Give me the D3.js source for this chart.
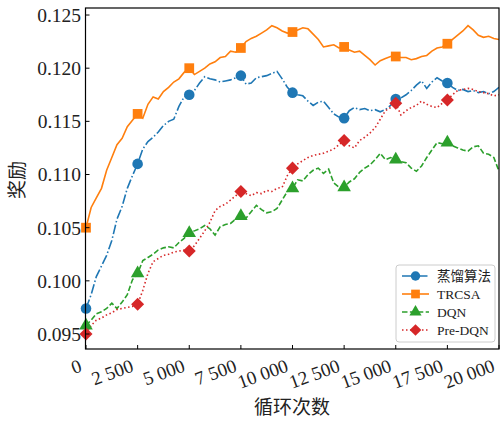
<!DOCTYPE html>
<html>
<head>
<meta charset="utf-8">
<script src="https://cdn.jsdelivr.net/npm/d3@7/dist/d3.min.js"></script>
<style>
  body { margin: 0; background: #fff; }
  svg { display: block; }
  .serif { font-family: "Times New Roman", "Liberation Serif", Times, serif; }
  .cjk { font-family: "Noto Sans CJK SC", "Noto Sans CJK JP", sans-serif; }
</style>
</head>
<body>
<div id="chart"></div>
<script>
// reward curves, one value every 250 loops (0 .. 20000)
var step = 250;
var distill = [
  0.0974,0.0987,0.1004,0.1014,0.1024,0.1038,0.1058,0.1070,0.1087,0.1099,
  0.1110,0.1124,0.1131,0.1135,0.1140,0.1146,0.1150,0.1152,0.1164,0.1173,
  0.1175,0.1179,0.1186,0.1192,0.1190,0.1189,0.1187,0.1188,0.1189,0.1191,
  0.1193,0.1185,0.1186,0.1191,0.1192,0.1193,0.1195,0.1197,0.1190,0.1182,
  0.1177,0.1175,0.1174,0.1169,0.1165,0.1168,0.1169,0.1163,0.1157,0.1154,
  0.1153,0.1160,0.1163,0.1161,0.1162,0.1160,0.1161,0.1159,0.1161,0.1165,
  0.1171,0.1172,0.1175,0.1179,0.1184,0.1188,0.1181,0.1187,0.1191,0.1188,
  0.1186,0.1182,0.1179,0.1180,0.1178,0.1179,0.1177,0.1178,0.1176,0.1178,
  0.1182
];
var trcsa = [
  0.1050,0.1069,0.1078,0.1087,0.1104,0.1116,0.1128,0.1134,0.1145,0.1151,
  0.1157,0.1153,0.1166,0.1173,0.1171,0.1178,0.1182,0.1187,0.1190,0.1196,
  0.1200,0.1194,0.1197,0.1200,0.1204,0.1206,0.1210,0.1211,0.1216,0.1215,
  0.1219,0.1225,0.1228,0.1230,0.1233,0.1236,0.1240,0.1238,0.1235,0.1233,
  0.1234,0.1236,0.1238,0.1237,0.1232,0.1227,0.1220,0.1221,0.1222,0.1219,
  0.1220,0.1217,0.1215,0.1216,0.1212,0.1208,0.1203,0.1207,0.1209,0.1211,
  0.1211,0.1210,0.1210,0.1208,0.1209,0.1211,0.1212,0.1216,0.1219,0.1220,
  0.1223,0.1227,0.1231,0.1235,0.1240,0.1236,0.1231,0.1229,0.1230,0.1228,
  0.1227
];
var dqn = [
  0.0958,0.0963,0.0969,0.0971,0.0974,0.0979,0.0974,0.0980,0.0987,0.1001,
  0.1007,0.1019,0.1022,0.1025,0.1029,0.1031,0.1032,0.1031,0.1036,0.1040,
  0.1045,0.1047,0.1049,0.1052,0.1049,0.1043,0.1051,0.1053,0.1054,0.1058,
  0.1061,0.1059,0.1065,0.1071,0.1067,0.1064,0.1065,0.1068,0.1076,0.1084,
  0.1087,0.1095,0.1094,0.1100,0.1104,0.1106,0.1101,0.1105,0.1092,0.1088,
  0.1088,0.1093,0.1096,0.1102,0.1106,0.1109,0.1114,0.1120,0.1114,0.1116,
  0.1114,0.1112,0.1111,0.1106,0.1103,0.1108,0.1116,0.1123,0.1130,0.1129,
  0.1130,0.1127,0.1125,0.1123,0.1122,0.1126,0.1127,0.1120,0.1119,0.1116,
  0.1103
];
var preDqn = [
  0.0950,0.0958,0.0963,0.0965,0.0968,0.0970,0.0973,0.0974,0.0975,0.0976,
  0.0978,0.0991,0.1007,0.1018,0.1021,0.1024,0.1025,0.1027,0.1028,0.1029,
  0.1028,0.1033,0.1040,0.1047,0.1055,0.1066,0.1070,0.1072,0.1076,0.1080,
  0.1084,0.1082,0.1080,0.1083,0.1082,0.1085,0.1084,0.1087,0.1088,0.1099,
  0.1106,0.1110,0.1113,0.1116,0.1118,0.1119,0.1120,0.1122,0.1124,0.1128,
  0.1132,0.1127,0.1125,0.1132,0.1135,0.1139,0.1144,0.1152,0.1160,0.1163,
  0.1167,0.1156,0.1160,0.1163,0.1165,0.1169,0.1166,0.1164,0.1163,0.1167,
  0.1170,0.1175,0.1179,0.1180,0.1181,0.1180,0.1178,0.1177,0.1176,0.1174,
  0.1175
];
var seriesNames = ["蒸馏算法", "TRCSA", "DQN", "Pre-DQN"];
var xTicks = [0, 2500, 5000, 7500, 10000, 12500, 15000, 17500, 20000];
var yTicks = [0.095, 0.100, 0.105, 0.110, 0.115, 0.120, 0.125];

var W = 500, H = 423;
var L = 85.5, R = 499, T = 8, B = 349;

var svg = d3.select("#chart").append("svg")
  .attr("width", W).attr("height", H);

var x = d3.scaleLinear().domain([0, 20000]).range([86, 499]);
var y = d3.scaleLinear().domain([0.09359, 0.12566]).range([B, T]);

// matplotlib style diamond = square turned 45 degrees
var styles = [
  {data: distill, color: "#1f77b4", dash: "9.6,2.4,1.5,2.4", marker: d3.symbolCircle, size: 88, rot: 0},
  {data: trcsa, color: "#ff7f0e", dash: null, marker: d3.symbolSquare, size: 95, rot: 0},
  {data: dqn, color: "#2ca02c", dash: "5.5,2.4", marker: d3.symbolTriangle, size: 80, rot: 0},
  {data: preDqn, color: "#d62728", dash: "1.5,2.5", marker: d3.symbolSquare, size: 85, rot: 45}
];

svg.append("clipPath").attr("id", "clip")
  .append("rect").attr("x", L).attr("y", T).attr("width", R - L).attr("height", B - T);

var line = d3.line()
  .x(function(d, i) { return x(i * step); })
  .y(function(d) { return y(d); });

var plot = svg.append("g").attr("clip-path", "url(#clip)");

styles.forEach(function(s) {
  plot.append("path")
    .attr("d", line(s.data))
    .attr("fill", "none")
    .attr("stroke", s.color)
    .attr("stroke-width", 1.6)
    .attr("stroke-dasharray", s.dash);
});

// markers every 2500 loops
styles.forEach(function(s) {
  var pts = s.data.map(function(v, i) { return [i * step, v]; })
    .filter(function(p) { return p[0] % 2500 == 0 && p[0] < 20000; });
  svg.append("g").selectAll("path").data(pts).enter().append("path")
    .attr("d", d3.symbol().type(s.marker).size(s.size))
    .attr("transform", function(p) {
      return "translate(" + x(p[0]) + "," + y(p[1]) + ") rotate(" + s.rot + ")";
    })
    .attr("fill", s.color);
});

// frame
svg.append("rect")
  .attr("x", L).attr("y", T).attr("width", R - L).attr("height", B - T)
  .attr("fill", "none").attr("stroke", "#000").attr("stroke-width", 1.2);

// y axis, inward ticks
var yAxis = svg.append("g");
yAxis.selectAll("line").data(yTicks).enter().append("line")
  .attr("x1", L).attr("x2", L + 4)
  .attr("y1", function(d) { return y(d); }).attr("y2", function(d) { return y(d); })
  .attr("stroke", "#000").attr("stroke-width", 1);
yAxis.selectAll("text").data(yTicks).enter().append("text")
  .attr("class", "serif")
  .attr("x", 81).attr("y", function(d) { return y(d); })
  .attr("dy", "0.35em")
  .attr("text-anchor", "end")
  .style("font-size", "19.5px")
  .attr("fill", "#222")
  .text(function(d) { return d3.format(".3f")(d); });

// x axis, inward ticks, rotated labels
var xAxis = svg.append("g");
xAxis.selectAll("line").data(xTicks).enter().append("line")
  .attr("x1", function(d) { return x(d); }).attr("x2", function(d) { return x(d); })
  .attr("y1", B).attr("y2", B - 4)
  .attr("stroke", "#000").attr("stroke-width", 1);
var fmt = function(d) { return d3.format(",")(d).replace(",", " "); };
xAxis.selectAll("text").data(xTicks).enter().append("text")
  .attr("class", "serif")
  .attr("transform", function(d) {
    return "translate(" + (x(d) - 3) + "," + 371 + ") rotate(-20)";
  })
  .attr("text-anchor", "end")
  .style("font-size", "19px")
  .attr("fill", "#222")
  .text(fmt);

// axis titles
svg.append("text")
  .attr("class", "cjk")
  .attr("transform", "translate(24,180) rotate(-90)")
  .attr("text-anchor", "middle")
  .style("font-size", "19px")
  .attr("fill", "#222")
  .text("奖励");
svg.append("text")
  .attr("class", "cjk")
  .attr("x", 292).attr("y", 414)
  .attr("text-anchor", "middle")
  .style("font-size", "19px")
  .attr("fill", "#222")
  .text("循环次数");

// legend
var lg = svg.append("g").attr("transform", "translate(396,265)");
lg.append("rect")
  .attr("width", 99).attr("height", 77).attr("rx", 3)
  .attr("fill", "#fff").attr("fill-opacity", 0.85)
  .attr("stroke", "#ccc").attr("stroke-width", 1);
styles.forEach(function(s, i) {
  var row = lg.append("g").attr("transform", "translate(0," + (11 + i * 18) + ")");
  row.append("line")
    .attr("x1", 6).attr("x2", 33).attr("y1", 0).attr("y2", 0)
    .attr("stroke", s.color).attr("stroke-width", 1.6)
    .attr("stroke-dasharray", s.dash);
  row.append("path")
    .attr("d", d3.symbol().type(s.marker).size(s.size * 0.8))
    .attr("transform", "translate(19.5,0) rotate(" + s.rot + ")")
    .attr("fill", s.color);
  row.append("text")
    .attr("class", i == 0 ? "cjk" : "serif")
    .attr("x", 41).attr("y", 0).attr("dy", "0.35em")
    .style("font-size", "13.5px")
    .attr("fill", "#222")
    .text(seriesNames[i]);
});
</script>
</body>
</html>
